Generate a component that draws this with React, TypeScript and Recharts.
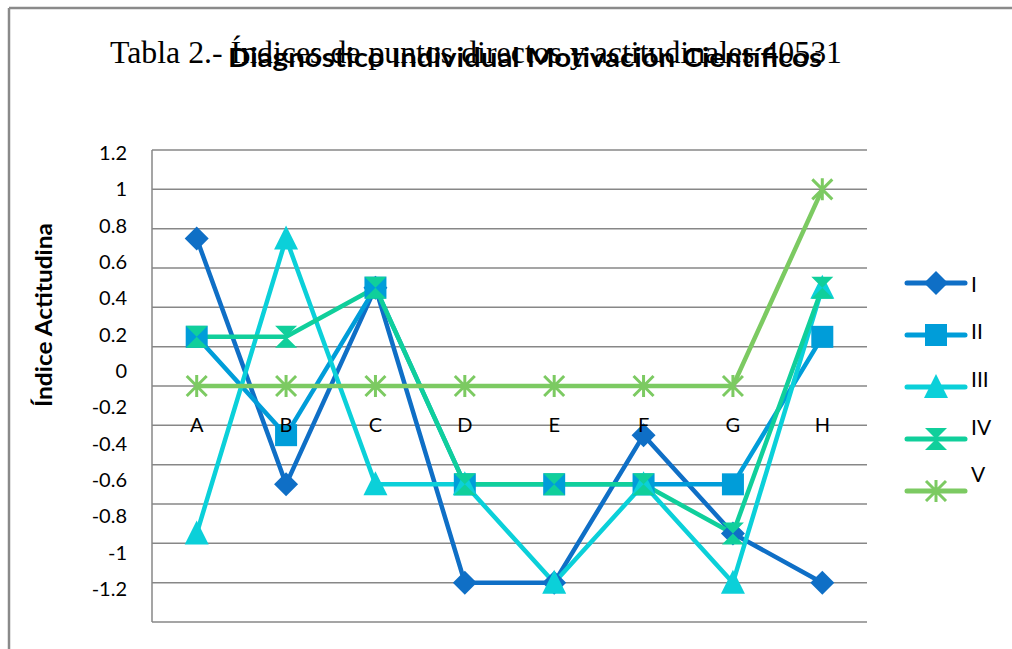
import { LineChart, Line, XAxis, YAxis, CartesianGrid, Legend } from "recharts";

const categories = ["A", "B", "C", "D", "E", "F", "G", "H"];
const seriesI = [0.75, -0.5, 0.5, -1, -1, -0.25, -0.75, -1];
const seriesII = [0.25, -0.25, 0.5, -0.5, -0.5, -0.5, -0.5, 0.25];
const seriesIII = [-0.75, 0.75, -0.5, -0.5, -1, -0.5, -1, 0.5];
const seriesIV = [0.25, 0.25, 0.5, -0.5, -0.5, -0.5, -0.75, 0.5];
const seriesV = [0, 0, 0, 0, 0, 0, 0, 1];
const yTicks = [1.2, 1, 0.8, 0.6, 0.4, 0.2, 0, -0.2, -0.4, -0.6, -0.8, -1, -1.2];
const seriesNames = ["I", "II", "III", "IV", "V"];

const data = categories.map((name, i) => ({
  name,
  I: seriesI[i],
  II: seriesII[i],
  III: seriesIII[i],
  IV: seriesIV[i],
  V: seriesV[i],
}));

const COLORS = ["#0F6FC6", "#009DD9", "#0BD0D9", "#10CF9B", "#7CCA62"];
const SANS = "Lato, 'Open Sans', sans-serif";
const GRID = "#878787";
const PLOT_TOP = 150;

// marker shapes, centred on (cx, cy)
function marker(kind: number, cx: number, cy: number, color: string, key?: string) {
  if (kind === 0) {
    return <path key={key} d={`M${cx} ${cy - 12}L${cx + 12} ${cy}L${cx} ${cy + 12}L${cx - 12} ${cy}Z`} fill={color} />;
  }
  if (kind === 1) {
    return <rect key={key} x={cx - 11} y={cy - 11} width={22} height={22} fill={color} />;
  }
  if (kind === 2) {
    return <path key={key} d={`M${cx} ${cy - 13}L${cx + 12} ${cy + 11}L${cx - 12} ${cy + 11}Z`} fill={color} />;
  }
  if (kind === 3) {
    return <path key={key} d={`M${cx - 11} ${cy - 11}L${cx + 11} ${cy - 11}L${cx - 11} ${cy + 11}L${cx + 11} ${cy + 11}Z`} fill={color} />;
  }
  return (
    <path
      key={key}
      d={`M${cx - 10} ${cy - 10}L${cx + 10} ${cy + 10}M${cx + 10} ${cy - 10}L${cx - 10} ${cy + 10}M${cx} ${cy - 11}L${cx} ${cy + 11}`}
      stroke={color}
      strokeWidth={3}
      fill="none"
    />
  );
}

const makeDot = (kind: number) => (props: any) => {
  const { cx, cy, index } = props;
  if (cx == null || cy == null) return <g key={`d${kind}-${index}`} />;
  return marker(kind, cx, cy, COLORS[kind], `d${kind}-${index}`);
};

// the value labels in the source sit slightly compressed against the grid
const YTick = (props: any) => {
  const { x, y, payload } = props;
  const ly = PLOT_TOP + 2 + (y - PLOT_TOP) * (436 / 472);
  return (
    <text x={x} y={ly} textAnchor="end" dominantBaseline="central" fontFamily={SANS} fontSize={20} fill="#000">
      {payload.value}
    </text>
  );
};

const XTick = (props: any) => {
  const { x, y, payload } = props;
  return (
    <text x={x} y={y - 198} textAnchor="middle" dominantBaseline="central" fontFamily={SANS} fontSize={20} fill="#000">
      {payload.value}
    </text>
  );
};

const LegendBox = () => (
  <svg width={112} height={240}>
    {seriesNames.map((n, i) => {
      const ly = 21 + i * 52;
      return (
        <g key={n}>
          <line x1={12} x2={70} y1={ly} y2={ly} stroke={COLORS[i]} strokeWidth={5} strokeLinecap="round" />
          {marker(i, 41, ly, COLORS[i])}
          <text x={76} y={ly - i * 4.3} dominantBaseline="central" fontFamily={SANS} fontSize={21} fill="#000">
            {n}
          </text>
        </g>
      );
    })}
  </svg>
);

export default function App() {
  return (
    <div style={{ position: "absolute", left: 0, top: 0, width: 1012, height: 649, background: "#fff" }}>
      <svg width={1012} height={649} style={{ position: "absolute", left: 0, top: 0 }}>
        <line x1={9} y1={8} x2={1012} y2={8} stroke="#8a8a8a" strokeWidth={2.5} />
        <line x1={9} y1={8} x2={9} y2={649} stroke="#8a8a8a" strokeWidth={2.5} />
        <text
          x={110}
          y={63}
          fontFamily="'Liberation Serif', 'Times New Roman', serif"
          fontSize={31}
          textLength={732}
          lengthAdjust="spacingAndGlyphs"
          fill="#000"
        >
          Tabla 2.- Índices de puntos directos y actitudinales 40531
        </text>
        <text
          x={228}
          y={67}
          fontFamily={SANS}
          fontWeight="bold"
          fontSize={26}
          textLength={594}
          lengthAdjust="spacingAndGlyphs"
          fill="#000"
        >
          Diagnóstico Individual Motivación Científicos
        </text>
        <text
          x={43}
          y={315}
          transform="rotate(-90 43 315)"
          textAnchor="middle"
          dominantBaseline="central"
          fontFamily={SANS}
          fontWeight="bold"
          fontSize={23}
          textLength={184}
          lengthAdjust="spacingAndGlyphs"
          fill="#000"
        >
          Índice Actitudina
        </text>
      </svg>
      <div style={{ position: "absolute", left: 0, top: 0 }}>
        <LineChart width={1012} height={649} data={data} margin={{ top: PLOT_TOP, right: 33, bottom: 0, left: 92 }}>
          <CartesianGrid vertical={false} stroke={GRID} strokeWidth={1.5} />
          <XAxis
            dataKey="name"
            height={27}
            axisLine={false}
            tickLine={false}
            tickSize={0}
            tickMargin={0}
            padding={{ left: 44.7, right: 44.7 }}
            tick={<XTick />}
            interval={0}
          />
          <YAxis
            width={60}
            domain={[-1.2, 1.2]}
            ticks={yTicks}
            interval={0}
            axisLine={{ stroke: GRID, strokeWidth: 1.5 }}
            tickLine={false}
            tickSize={0}
            tickMargin={25}
            tick={<YTick />}
          />
          <Legend
            layout="vertical"
            align="right"
            verticalAlign="middle"
            content={<LegendBox />}
            wrapperStyle={{ left: 895, top: 262, right: "auto", width: 112 }}
          />
          {seriesNames.map((n, i) => (
            <Line
              key={n}
              dataKey={n}
              stroke={COLORS[i]}
              strokeWidth={4.5}
              strokeLinejoin="round"
              dot={makeDot(i)}
              activeDot={false}
              isAnimationActive={false}
            />
          ))}
        </LineChart>
      </div>
    </div>
  );
}
